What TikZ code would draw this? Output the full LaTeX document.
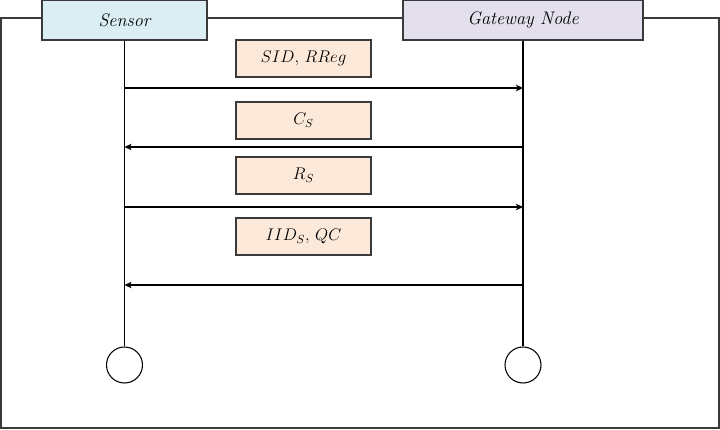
\documentclass[tikz,border=0pt]{standalone}
\usepackage{tikz}
\usetikzlibrary{calc,arrows.meta}
\definecolor{sensorfill}{HTML}{DBEEF4}
\definecolor{gatewayfill}{HTML}{E4DFEC}
\definecolor{msgfill}{HTML}{FCE9DA}
\definecolor{edgegray}{HTML}{3A3A3A}
\tikzset{
  party/.style={draw=edgegray, line width=1pt, minimum width=4.95cm, minimum height=1.2cm, inner sep=0pt, font=\fontsize{15.5}{18}\selectfont\itshape},
  msgbox/.style={draw=edgegray, line width=1pt, fill=msgfill, minimum width=4.05cm, minimum height=1.11cm, inner sep=0pt, font=\fontsize{14}{16}\selectfont},
  endpoint/.style={draw, circle, line width=0.9pt, minimum size=1.08cm, inner sep=0pt},
  msg/.style={-{Stealth[length=6pt,width=5.5pt,inset=1.5pt]}, line width=0.9pt}
}

\begin{document}
\begin{tikzpicture}[x=0.03cm, y=-0.03cm]
  \useasboundingbox (0,0) rectangle (720,430);
  \draw[line width=1pt, color=edgegray] (1,18) rectangle (719,428);

  \node[party, fill=sensorfill] (sensor) at (124.5,20) {Sensor};
  \node[party, fill=gatewayfill, minimum width=7.2cm] (gateway) at (523,20) {Gateway Node};

  \node[endpoint] (sensorend) at (124.5,365) {};
  \node[endpoint] (gatewayend) at (523,365) {};
  \draw[line width=0.9pt] (sensor.south) -- (sensorend.north);
  \draw[line width=0.9pt] (gateway.south) -- (gatewayend.north);

  \node[msgbox] (m1) at (303.5,58.5) {$SID,\,RReg$};
  \node[msgbox] (m2) at (303.5,120.5) {$C_S$};
  \node[msgbox] (m3) at (303.5,175.5) {$R_S$};
  \node[msgbox] (m4) at (303.5,236.5) {$IID_S,\,QC$};

  \foreach \y/\n in {88/1,147/2,207/3,285/4}
  {
  \coordinate (s\n) at (sensor.south |- 0,\y);
  \coordinate (g\n) at (gateway.south |- 0,\y);
  }
  \draw[msg] (s1) -- (g1);
  \draw[msg] (g2) -- (s2);
  \draw[msg] (s3) -- (g3);
  \draw[msg] (g4) -- (s4);
\end{tikzpicture}
\end{document}
